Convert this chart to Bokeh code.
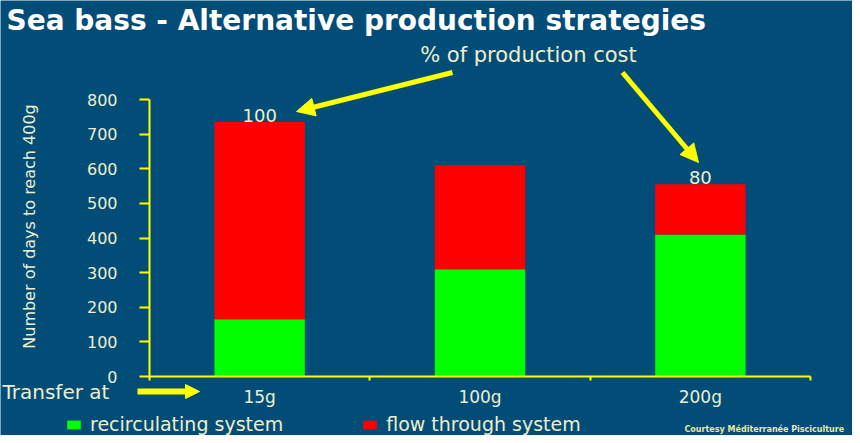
import math
from bokeh.plotting import figure
from bokeh.models import (ColumnDataSource, Range1d, FixedTicker, Label, LabelSet,
                          Arrow, NormalHead, Legend, LegendItem, LinearAxis)
from bokeh.core.properties import value
from bokeh.embed import file_html
from bokeh.resources import INLINE

# ---- data ----
categories = ["15g", "100g", "200g"]
recirculating = [165, 310, 410]
flow_through = [570, 300, 145]
cost_pct = ["100", "", "80"]
y_ticks = [0, 100, 200, 300, 400, 500, 600, 700, 800]

BG = "#024D78"
CREAM = "#EEEECC"
YELLOW = "#FFFF00"
FONT = "DejaVu Sans"

# pixel geometry of the chart area (page px): x 157..818 -> 0..3 ; y 384..107 -> 0..800
W, H = 852, 435
PX_X = (818 - 157) / 3.0
PX_Y = (384 - 107) / 800.0
x0 = (8 - 157) / PX_X
x1 = (8 + W - 157) / PX_X
y1 = (384 - 8) / PX_Y
y0 = (384 - 8 - H) / PX_Y

xpos = [i + 0.5 for i in range(len(categories))]
totals = [a + b for a, b in zip(recirculating, flow_through)]
src = ColumnDataSource(dict(x=xpos, recirc=recirculating, flow=flow_through,
                            total=totals, pct=cost_pct))

p = figure(width=W, height=H, output_backend="svg", toolbar_location=None,
           x_range=Range1d(x0, x1), y_range=Range1d(y0, y1),
           x_axis_type=None, y_axis_type=None,
           min_border=0, min_border_left=0, min_border_right=0,
           min_border_top=0, min_border_bottom=0)
p.background_fill_color = BG
p.border_fill_color = BG
p.outline_line_color = None
p.grid.grid_line_color = None

rs = p.vbar_stack(["recirc", "flow"], x="x", width=0.41, source=src,
                  color=["#00FF00", "#FF0000"], line_color=None)

# y axis
ya = LinearAxis(fixed_location=0, bounds=(0, 800))
ya.ticker = FixedTicker(ticks=y_ticks)
ya.axis_line_color = YELLOW
ya.axis_line_width = 2
ya.major_tick_line_color = YELLOW
ya.major_tick_line_width = 2
ya.major_tick_out = 10
ya.major_tick_in = 0
ya.minor_tick_line_color = None
ya.major_label_text_color = CREAM
ya.major_label_text_font = FONT
ya.major_label_text_font_size = "16px"
ya.major_label_standoff = 22
p.add_layout(ya, "left")

# x axis
xa = LinearAxis(fixed_location=0, bounds=(0, 3))
xa.ticker = FixedTicker(ticks=xpos, minor_ticks=[0, 1, 2, 3])
xa.major_label_overrides = {x: c for x, c in zip(xpos, categories)}
xa.axis_line_color = YELLOW
xa.axis_line_width = 2
xa.major_tick_line_color = None
xa.minor_tick_line_color = YELLOW
xa.minor_tick_line_width = 2
xa.minor_tick_out = 4
xa.minor_tick_in = 0
xa.major_label_text_color = CREAM
xa.major_label_text_font = FONT
xa.major_label_text_font_size = "17px"
xa.major_label_standoff = 4
p.add_layout(xa, "below")

# value labels above bars
p.add_layout(LabelSet(x="x", y="total", text="pct", source=src, text_align="center",
                      text_baseline="middle", text_color=CREAM, text_font=value(FONT),
                      text_font_size="18px", y_offset=7))

def ux(px):
    return (px - 157) / PX_X

def uy(py):
    return (384 - py) / PX_Y

# y axis title
p.add_layout(Label(x=ux(37), y=uy(234), text="Number of days to reach 400g", angle=math.pi / 2,
                   text_align="center", text_baseline="middle", text_color=CREAM,
                   text_font=FONT, text_font_size="16px"))

# title and annotations
p.add_layout(Label(x=ux(14), y=uy(28), text="Sea bass - Alternative production strategies",
                   text_color="white", text_font=FONT, text_font_style="bold",
                   text_font_size="28px", text_baseline="middle"))
p.add_layout(Label(x=ux(536), y=uy(62), text="% of production cost", text_align="center",
                   text_color=CREAM, text_font=FONT, text_font_size="21px",
                   text_baseline="middle"))
p.add_layout(Label(x=ux(10), y=uy(399), text="Transfer at", text_color=CREAM,
                   text_font=FONT, text_font_size="20px", text_baseline="middle"))
p.add_layout(Label(x=ux(692), y=uy(437), text="Courtesy Méditerranée Pisciculture",
                   text_color="#E8E8A0", text_font=FONT, text_font_style="bold",
                   text_font_size="8px", text_baseline="middle"))

def head():
    return NormalHead(size=18, fill_color=YELLOW, line_color=YELLOW)

p.add_layout(Arrow(x_start=ux(460), y_start=uy(80), x_end=ux(304), y_end=uy(119),
                   line_color=YELLOW, line_width=5, end=head()))
p.add_layout(Arrow(x_start=ux(630), y_start=uy(80), x_end=ux(706), y_end=uy(170),
                   line_color=YELLOW, line_width=5, end=head()))
p.add_layout(Arrow(x_start=ux(145), y_start=uy(399), x_end=ux(207), y_end=uy(399),
                   line_color=YELLOW, line_width=6,
                   end=NormalHead(size=14, fill_color=YELLOW, line_color=YELLOW)))

legend = Legend(items=[LegendItem(label="recirculating system", renderers=[rs[0]]),
                       LegendItem(label="flow through system", renderers=[rs[1]])],
                orientation="horizontal", location=(73 - 8, 0),
                background_fill_alpha=0, border_line_alpha=0,
                label_text_color=CREAM, label_text_font=FONT, label_text_font_size="19px",
                glyph_width=17, glyph_height=11, label_standoff=8, spacing=78,
                padding=0, margin=0)
p.add_layout(legend, "center")

open("out.html", "w").write(file_html(p, INLINE))
